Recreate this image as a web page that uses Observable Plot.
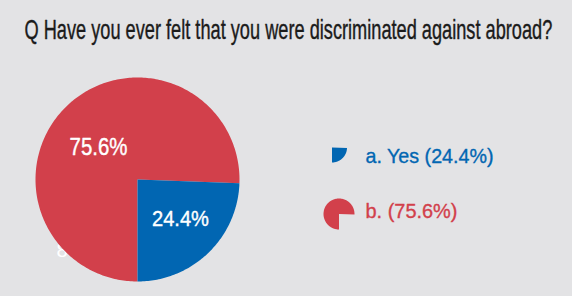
<!DOCTYPE html>
<html>
<head>
<meta charset="utf-8">
<script src="https://cdn.jsdelivr.net/npm/d3@7"></script>
<script src="https://cdn.jsdelivr.net/npm/@observablehq/plot@0.6"></script>
<style>
  html, body { margin: 0; padding: 0; background: #e3e3e5; overflow: hidden; }
  #chart svg { display: block; }
</style>
</head>
<body>
<div id="chart"></div>
<script>
// ---- data ----
const title = "Q Have you ever felt that you were discriminated against abroad?";
const categories = ["b.", "a. Yes"];           // drawn clockwise from 6 o'clock
const values = [75.6, 24.4];
const sliceLabels = ["75.6%", "24.4%"];
const legendLabels = ["b. (75.6%)", "a. Yes (24.4%)"];
const hiddenLabel = ["8"];

// ---- styling / layout ----
const W = 572, H = 296;
const colors = ["#d2404b", "#0166b2"];
const font = "'Liberation Sans', Arial, sans-serif";
const pie = {cx: 137, cy: 179, r: 102, start: 180};
const icons = [{cx: 338.5, cy: 213.5, r: 15.5}, {cx: 331.5, cy: 147, r: 15}];
const sliceLabelPos = [{x: 98, y: 147}, {x: 180, y: 218}];
const legendTextPos = [{x: 365, y: 211}, {x: 365, y: 156}];
// target rendered widths (condensed face emulation)
const widths = new Map([
  [title, 528], ["75.6%", 58], ["24.4%", 57], ["b. (75.6%)", 92], ["a. Yes (24.4%)", 128]
]);

// build slice geometry from the values
const total = d3.sum(values);
const slices = [];
let acc = 0;
values.forEach((v, i) => {
  const a0 = pie.start + acc / total * 360;
  acc += v;
  const a1 = pie.start + acc / total * 360;
  slices.push({i, a0, a1});
});
function polygon(s, c, key) {
  const pts = [{key, x: c.cx, y: c.cy}];
  const n = Math.max(2, Math.ceil((s.a1 - s.a0)));
  for (let k = 0; k <= n; k++) {
    const a = (s.a0 + (s.a1 - s.a0) * k / n) * Math.PI / 180;
    pts.push({key, x: c.cx + c.r * Math.sin(a), y: c.cy - c.r * Math.cos(a)});
  }
  pts.push({key, x: c.cx, y: c.cy});
  return pts;
}
const pieShapes = slices.map(s => ({s, pts: polygon(s, pie, "p" + s.i)}));
const iconShapes = slices.map(s => ({s, pts: polygon(s, icons[s.i], "i" + s.i)}));

const marks = [];
marks.push(Plot.text(hiddenLabel, {x: () => 56, y: () => 250, text: d => d, fill: "white",
  fontSize: 20, textAnchor: "start", lineAnchor: "middle", fontFamily: font}));
for (const sh of pieShapes) {
  marks.push(Plot.line(sh.pts, {x: "x", y: "y", fill: colors[sh.s.i], stroke: "none", curve: "linear"}));
}
for (const sh of iconShapes) {
  marks.push(Plot.line(sh.pts, {x: "x", y: "y", fill: colors[sh.s.i], stroke: "none", curve: "linear"}));
}
marks.push(Plot.text(sliceLabels.map((t, i) => ({t, ...sliceLabelPos[i]})), {
  x: "x", y: "y", text: "t", fill: "white", stroke: "white", strokeWidth: 0.4,
  fontSize: 23, fontFamily: font, lineAnchor: "middle"}));
marks.push(Plot.text(legendLabels.map((t, i) => ({t, i, ...legendTextPos[i]})), {
  x: "x", y: "y", text: "t", fill: d => colors[d.i], stroke: d => colors[d.i], strokeWidth: 0.35,
  fontSize: 21, fontFamily: font, textAnchor: "start", lineAnchor: "middle"}));
marks.push(Plot.text([title], {x: () => 24, y: () => 30, text: d => d, fill: "#1b1b1b",
  stroke: "#1b1b1b", strokeWidth: 0.4,
  fontSize: 27, fontFamily: font, textAnchor: "start", lineAnchor: "middle"}));

const chart = Plot.plot({
  width: W, height: H,
  margin: 0,
  x: {domain: [0, W], range: [0, W], axis: null},
  y: {domain: [0, H], range: [0, H], axis: null},
  style: {background: "#e3e3e5", overflow: "visible"},
  marks
});
document.getElementById("chart").append(chart);
chart.querySelectorAll("text").forEach(t => {
  const w = widths.get(t.textContent);
  if (!w) return;
  const cur = t.getComputedTextLength();
  const sx = w / cur;
  const tr = t.getAttribute("transform") || "";
  t.setAttribute("transform", (tr + ` scale(${sx},1)`).trim());
});
</script>
</body>
</html>
